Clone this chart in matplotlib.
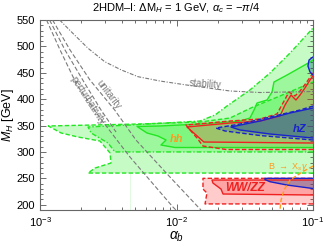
"""2HDM-I exclusion regions in the (alpha_b, M_H) plane."""

import matplotlib
import matplotlib.pyplot as plt
import numpy as np
from matplotlib.ticker import AutoMinorLocator, LogLocator, NullFormatter

matplotlib.use("Agg")

plt.rcParams["font.family"] = ["Liberation Sans", "DejaVu Sans"]
plt.rcParams["mathtext.fontset"] = "custom"
plt.rcParams["mathtext.rm"] = "Liberation Sans"
plt.rcParams["mathtext.it"] = "Liberation Sans:italic"
plt.rcParams["mathtext.bf"] = "Liberation Sans:bold"

# ── region outlines (alpha_b, M_H [GeV]) ─────────────────────────────────────
# green: dashed / dash-dot / solid contours
green_dash_ab = [0.1, 0.00225, 0.00253, 0.00331, 0.00326, 0.00275, 0.0019, 0.00143,
                 0.00115, 0.00522, 0.01486, 0.02466, 0.03631, 0.05728, 0.1]
green_dash_mh = [260, 260, 269.5, 279, 298, 320.7, 328.3, 335.9,
                 349.2, 352.9, 356.7, 364.3, 385.1, 406, 432.5]

green_dd_ab = [0.1, 0.00354, 0.00315, 0.00237, 0.00225, 0.00456, 0.01486, 0.01914,
               0.02344, 0.03451, 0.04842, 0.06792, 0.1]
green_dd_mh = [300, 300, 316.9, 335.9, 347.3, 351, 358.6, 370,
               387, 417.4, 449.6, 487.5, 534.8]

green_solid_ab = [0.1, 0.00975, 0.00769, 0.00838, 0.00731, 0.00608, 0.00514, 0.00757,
                  0.01486, 0.02917, 0.03451, 0.03698, 0.0389, 0.04603, 0.05012,
                  0.05176, 0.06457, 0.09506, 0.1]
green_solid_mh = [308.4, 308.4, 313.1, 322.6, 330.2, 335.9, 348.2, 349.2,
                  352.9, 358.6, 364.3, 379.5, 392.7, 398.4, 413.6,
                  432.5, 445.8, 470.4, 474.2]

# red: hh
hh_solid_ab = [0.1, 0.01588, 0.01194, 0.02466, 0.04093, 0.05728, 0.06237, 0.06902,
               0.07499, 0.08035, 0.08727, 0.09506, 0.1]
hh_solid_mh = [316.9, 318.8, 347.3, 354.8, 358.6, 368.1, 388.9, 407.9,
               398.4, 407.9, 421.1, 436.3, 443.9]

hh_dash_ab = [0.1, 0.02307, 0.01563, 0.01413, 0.01256, 0.01175, 0.02466, 0.04093,
              0.05445, 0.06026, 0.06668, 0.07379, 0.08035, 0.08893, 0.1]
hh_dash_mh = [304.6, 304.6, 311.2, 326.4, 341.6, 351, 358.6, 362.4,
              371.9, 392.7, 413.6, 406, 415.5, 430.6, 449.6]

# blue: hZ
hz_solid_ab = [0.1, 0.04842, 0.02917, 0.02506, 0.04093, 0.06792, 0.1]
hz_solid_mh = [326.4, 334, 341.6, 347.3, 358.6, 373.8, 383.2]

hz_dash_ab = [0.1, 0.04093, 0.02265, 0.01945, 0.02917, 0.04842, 0.08035, 0.1]
hz_dash_mh = [322.6, 331.1, 339.7, 345.3, 352.9, 366.2, 379.5, 387]

hz_top_ab = [0.1, 0.09354, 0.09184, 0.09506, 0.1]
hz_top_mh = [479.9, 474.2, 462.8, 451.5, 445.8]

# red: WW/ZZ, blue overlap
vv_dash_ab = [0.1, 0.01618, 0.01671, 0.01563, 0.01563, 0.1]
vv_dash_mh = [201.5, 201.5, 222.2, 229.7, 250, 250]

vv_solid_ab = [0.1, 0.02193, 0.02118, 0.01849, 0.0182, 0.1]
vv_solid_mh = [218.4, 220.3, 229.7, 241.1, 246.8, 246.8]

vv_hz_ab = [0.1, 0.06457, 0.04842, 0.04446, 0.04446, 0.1]
vv_hz_mh = [230.7, 237.3, 243.6, 247.7, 250, 250]

# B -> Xs gamma
bsg_ab = [0.1, 0.08449, 0.06792, 0.06138, 0.05834, 0.05728]
bsg_mh = [273.3, 262.9, 246.8, 227.9, 208.9, 190]

# theory bounds (gray)
stab_ab = [0.001393, 0.001694, 0.002249, 0.002979, 0.003945, 0.005224, 0.007568,
           0.01189, 0.02466, 0.04093, 0.1]
stab_mh = [550, 527.8, 496.4, 471.0, 455.3, 442.6, 434.4, 426.8, 415.5, 412.6, 414.5]

pert_ab = [0.001117, 0.001403, 0.001866, 0.002754, 0.00456, 0.00942, 0.00991]
pert_mh = [550, 493.2, 426.8, 364.3, 290.4, 195.6, 190]

pert2_ab = [0.001175, 0.001524, 0.002099, 0.002799, 0.003606]
pert2_mh = [550, 493.2, 432.5, 379.5, 337.8]

unit_ab = [0.001236, 0.00166, 0.002323, 0.003524, 0.005047, 0.008954, 0.0151]
unit_mh = [550, 493.2, 436.3, 379.5, 322.6, 252.5, 190]

GREEN = "#22e622"
GREEN_FILL = (0.2, 0.95, 0.2)
RED = "#ee2020"
RED_FILL = (1.0, 0.2, 0.2)
BLUE = "#1a22cc"
BLUE_FILL = (0.1, 0.3, 0.6)
ORANGE = "#ff9a1f"
GRAY = "#7a7a7a"

DASH = (0, (3.2, 1.6))
DASHDOT = (0, (3.5, 1.4, 1.0, 1.4))


def region(ax, ab, mh, line, ls, fill, alpha, z):
    ax.fill(ab, mh, color=fill, alpha=alpha, lw=0, zorder=z)
    ax.plot(ab, mh, color=line, ls=ls, lw=1.0, zorder=z + 10)


fig = plt.figure(figsize=(3.32, 2.47), dpi=100)
ax = fig.add_axes([40 / 332, 1 - 210 / 247, 273 / 332, 190 / 247])
ax.set_xscale("log")
ax.set_xlim(1e-3, 1e-1)
ax.set_ylim(190, 550)

region(ax, green_dash_ab, green_dash_mh, GREEN, DASH, GREEN_FILL, 0.28, 1)
region(ax, green_dd_ab, green_dd_mh, GREEN, DASHDOT, GREEN_FILL, 0.28, 1)
region(ax, green_solid_ab, green_solid_mh, GREEN, "-", GREEN_FILL, 0.28, 1)
region(ax, hh_dash_ab, hh_dash_mh, RED, DASH, RED_FILL, 0.12, 2)
region(ax, hh_solid_ab, hh_solid_mh, RED, "-", RED_FILL, 0.15, 2)
region(ax, hz_dash_ab, hz_dash_mh, BLUE, DASH, BLUE_FILL, 0.25, 3)
region(ax, hz_solid_ab, hz_solid_mh, BLUE, "-", BLUE_FILL, 0.35, 3)
region(ax, hz_top_ab, hz_top_mh, BLUE, "-", BLUE_FILL, 0.3, 3)
region(ax, vv_dash_ab, vv_dash_mh, RED, DASH, RED_FILL, 0.25, 2)
region(ax, vv_solid_ab, vv_solid_mh, RED, "-", RED_FILL, 0.25, 2)
region(ax, vv_hz_ab, vv_hz_mh, BLUE, "-", BLUE_FILL, 0.35, 3)

ax.plot([0.00456, 0.00456], [190, 260], color="#ddf8dd", lw=0.6, zorder=1)
ax.plot(bsg_ab, bsg_mh, color=ORANGE, ls=DASH, lw=1.0, zorder=20)

ax.plot(stab_ab, stab_mh, color=GRAY, ls=DASHDOT, lw=0.8, zorder=15)
ax.plot(pert_ab, pert_mh, color=GRAY, ls=(0, (4, 2)), lw=0.8, zorder=15)
ax.plot(pert2_ab, pert2_mh, color=GRAY, ls=(0, (4, 2)), lw=0.8, zorder=15)
ax.plot(unit_ab, unit_mh, color=GRAY, ls=(0, (4, 2)), lw=0.8, zorder=15)

# labels
ax.text(0.0162, 428, "stability", color=GRAY, fontsize=7, rotation=-4,
        ha="center", va="center", zorder=25)
ax.text(0.00318, 408, "unitarity", color=GRAY, fontsize=7, rotation=-53,
        ha="center", va="center", zorder=25)
ax.text(0.00222, 397, "perturbativity", color=GRAY, fontsize=7, rotation=-57,
        ha="center", va="center", zorder=25)
ax.text(0.0100, 325, "hh", color=ORANGE, fontsize=8, fontweight="bold",
        style="italic", ha="center", va="center", zorder=25)
ax.text(0.0803, 343, "hZ", color=BLUE, fontsize=8, fontweight="bold",
        style="italic", ha="center", va="center", zorder=25)
ax.text(0.0318, 232, "WW/ZZ", color=RED, fontsize=8.5, fontweight="bold",
        style="italic", ha="center", va="center", zorder=25)
ax.text(0.0665, 272, r"B $\rightarrow$ X$_s\,\gamma$", color=ORANGE, fontsize=6.5,
        ha="center", va="center", zorder=25)

ax.xaxis.set_major_locator(LogLocator(base=10, numticks=5))
ax.xaxis.set_minor_locator(LogLocator(base=10, subs=np.arange(2, 10), numticks=20))
ax.xaxis.set_minor_formatter(NullFormatter())
ax.set_yticks(np.arange(200, 551, 50))
ax.yaxis.set_minor_locator(AutoMinorLocator(5))
ax.tick_params(which="both", direction="in", top=True, right=True,
               labelsize=8, color="#555555", width=0.6)
ax.tick_params(which="major", length=4)
ax.tick_params(which="minor", length=2)
for s in ax.spines.values():
    s.set_color("#666666")
    s.set_linewidth(0.8)

ax.set_xlabel(r"$\alpha_b$", fontsize=10)
ax.set_ylabel(r"$M_H$ [GeV]", fontsize=9)
ax.xaxis.set_label_coords(0.5, -0.105)
ax.yaxis.set_label_coords(-0.088, 0.5)
fig.text(176.5 / 332, 1 - 8 / 247, r"2HDM–I: ΔM$_H$ = 1 GeV, $\alpha_c$ = $-\pi/4$",
         ha="center", va="center", fontsize=8)

fig.savefig("out.png", dpi=100)
